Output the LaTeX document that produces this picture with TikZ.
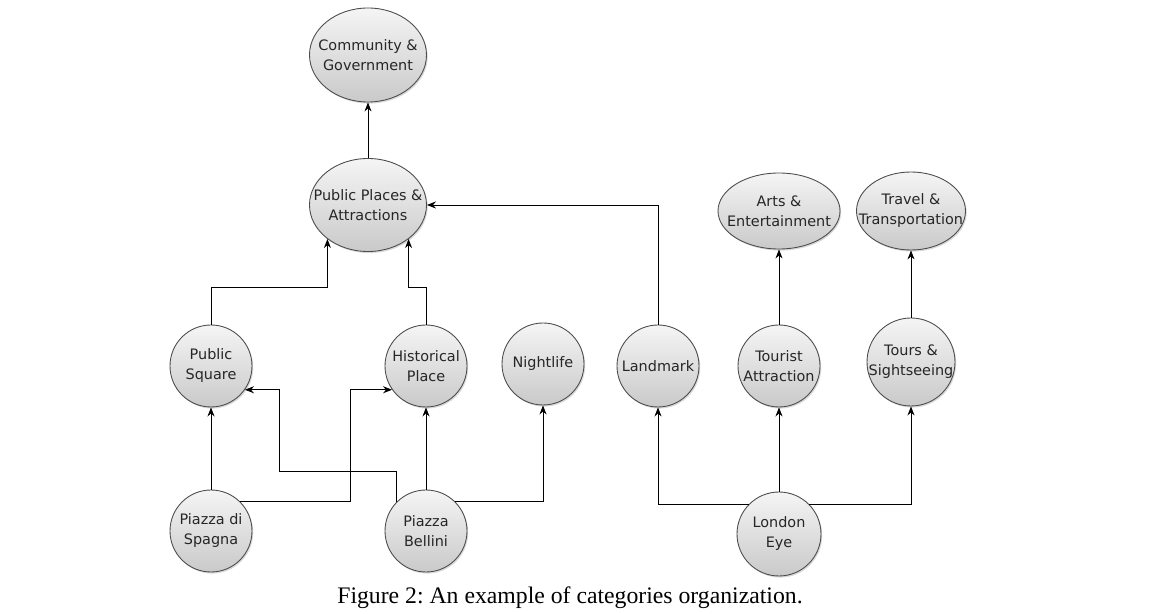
\documentclass[tikz,border=0pt]{standalone}
\usepackage{fontspec}
\setmainfont{Liberation Serif}
\newfontfamily\catfont{DejaVu Sans}
\usetikzlibrary{arrows.meta,shapes.geometric,shadows}
\frenchspacing

\begin{document}
\begin{tikzpicture}[x=0.2mm,y=0.2mm,
cat/.style={circle,draw=gray!60!black,line width=0.5pt,top color=gray!8,bottom color=gray!42,drop shadow={shadow xshift=0.7pt,shadow yshift=-0.9pt,opacity=0.3},inner sep=-4pt,minimum size=16.4mm,align=center,text=black!85,font=\catfont\fontsize{8.2}{11.4}\selectfont},
catwide/.style={cat,ellipse,inner sep=-10pt},
arrow/.style={-{Stealth[length=1.8mm,width=1.4mm]},line width=0.5pt},
caption/.style={font=\fontsize{13.5}{16}\selectfont}]
\useasboundingbox (0,0) rectangle (1170,614);

% top categories
\node[catwide,minimum width=23.4mm,minimum height=18.8mm] (cg) at (368,559) {Community \&\\Government};
\node[catwide,minimum width=23.4mm,minimum height=18.6mm] (pp) at (368,409) {Public Places \&\\Attractions};
\node[catwide,minimum width=24.4mm,minimum height=15.2mm] (ae) at (779,403) {Arts \&\\Entertainment};
\node[catwide,minimum width=21.8mm,minimum height=15.6mm] (tt) at (911,403) {Travel \&\\Transportation};

% middle categories
\node[cat] (ps) at (211,248) {Public\\Square};
\node[cat] (hp) at (426,248) {Historical\\Place};
\node[cat] (nl) at (543,250) {Nightlife};
\node[cat] (lm) at (658,248) {Landmark};
\node[cat] (ta) at (779,248) {Tourist\\Attraction};
\node[cat,minimum size=17.6mm] (tsi) at (911,252) {Tours \&\\Sightseeing};

% places
\node[cat] (pds) at (211,83) {Piazza di\\Spagna};
\node[cat] (pb) at (426,83) {Piazza\\Bellini};
\node[cat,minimum size=16.8mm] (le) at (779,80) {London\\Eye};

\node[caption] (cap) at (570,16) {Figure 2: An example of categories organization.};

\draw[arrow] (pp) -- (cg);
\draw[arrow] (ps.north) -- ++(0,37) -| (pp.220);
\draw[arrow] (hp.north) -- ++(0,37) -| (pp.320);
\draw[arrow] (lm) |- (pp);
\draw[arrow] (ta) -- (ae);
\draw[arrow] (tsi) -- (tt);

\draw[arrow] (pds) -- (ps);
\draw[arrow] (pds.45) -- ++(110,0) |- (hp.215);
\draw[arrow] (pb.135) |- ++(-117,30) |- (ps.325);
\draw[arrow] (pb) -- (hp);
\draw[arrow] (pb.45) -| (nl);

\draw[arrow] (le.135) -| (lm);
\draw[arrow] (le) -- (ta);
\draw[arrow] (le.45) -| (tsi);

\end{tikzpicture}
\end{document}
